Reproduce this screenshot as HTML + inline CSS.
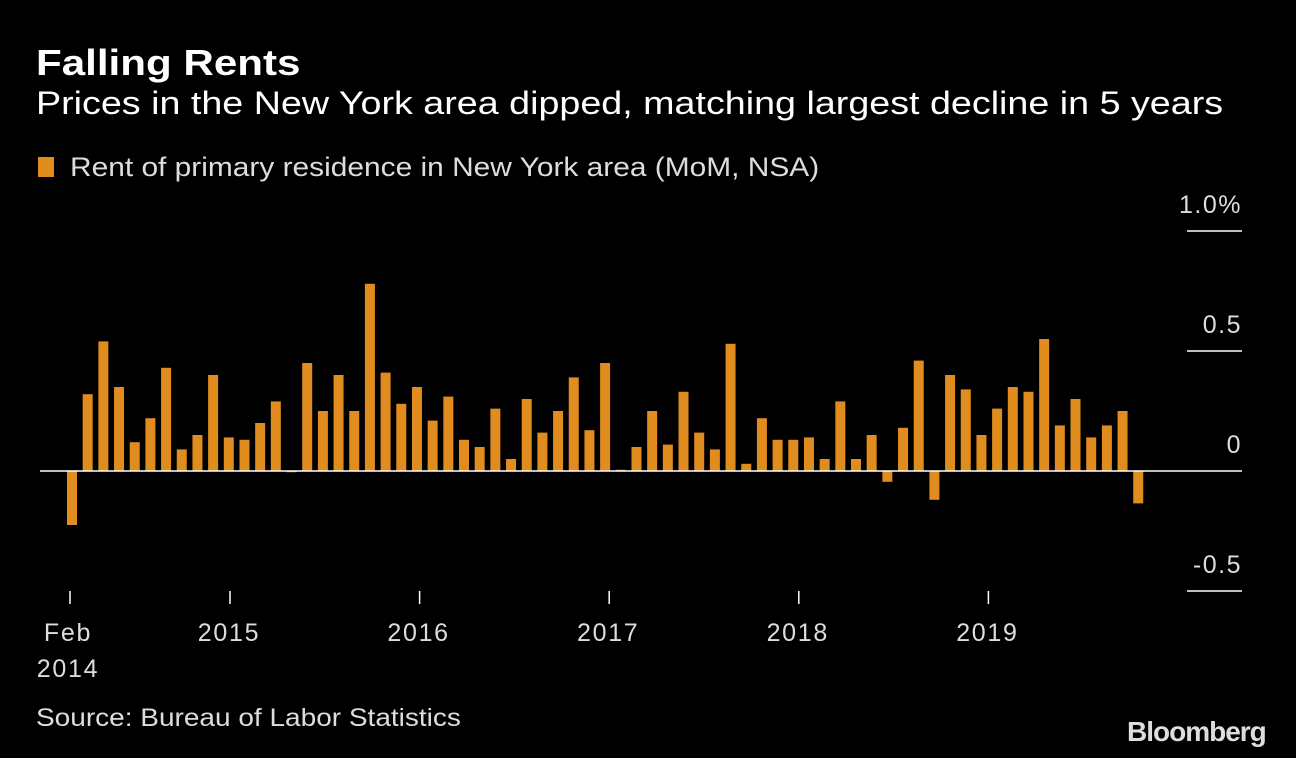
<!DOCTYPE html>
<html><head><meta charset="utf-8"><style>
body{margin:0;background:#000;width:1296px;height:758px;overflow:hidden;font-family:"Liberation Sans",sans-serif;color:#fff}
.t{position:absolute;white-space:nowrap;transform-origin:left top}
</style></head><body>
<div class="t" style="left:36px;top:42px;font-size:36px;font-weight:bold;transform:scaleX(1.17)">Falling Rents</div>
<div class="t" style="left:36px;top:85px;font-size:32px;transform:scaleX(1.177)">Prices in the New York area dipped, matching largest decline in 5 years</div>
<div class="t" style="left:38px;top:152px;font-size:27px;color:#ddd"><span style="display:inline-block;width:16px;height:20px;background:#e08c1e;margin-right:16px;vertical-align:-1px"></span><span style="display:inline-block;transform:scaleX(1.107);transform-origin:left top">Rent of primary residence in New York area (MoM, NSA)</span></div>
<svg id="c" width="1296" height="758" style="position:absolute;left:0;top:0"></svg>
<div class="t" style="left:36px;top:704px;font-size:25px;color:#ddd;transform:scaleX(1.12)">Source: Bureau of Labor Statistics</div>
<div class="t" style="left:1127px;top:716px;font-size:28px;font-weight:bold;color:#ddd;letter-spacing:-1px">Bloomberg</div>
<script>
const values=[-0.225,0.32,0.54,0.35,0.12,0.22,0.43,0.09,0.15,0.40,0.14,0.13,0.20,0.29,-0.005,0.45,0.25,0.40,0.25,0.78,0.41,0.28,0.35,0.21,0.31,0.13,0.10,0.26,0.05,0.30,0.16,0.25,0.39,0.17,0.45,0.005,0.10,0.25,0.11,0.33,0.16,0.09,0.53,0.03,0.22,0.13,0.13,0.14,0.05,0.29,0.05,0.15,-0.045,0.18,0.46,-0.12,0.40,0.34,0.15,0.26,0.35,0.33,0.55,0.19,0.30,0.14,0.19,0.25,-0.135];
const yTicks=[1.0,0.5,0,-0.5];
const yTickLabels=["1.0%","0.5","0","-0.5"];
const xTickIdx=[0,10,22,34,46,58];
const xTickLabels=["Feb","2015","2016","2017","2018","2019"];
const svg=document.getElementById('c');const NS='http://www.w3.org/2000/svg';
const y=v=>471-v*240;const x=i=>72+i*15.68;
const xt=i=>230+(i-10)*15.8;
function mk(t,a){const e=document.createElementNS(NS,t);for(const k in a)e.setAttribute(k,a[k]);svg.appendChild(e);return e;}
yTicks.forEach((v,i)=>{
 if(v!==0){const l=mk('line',{x1:1187,x2:1242,y1:y(v),y2:y(v),stroke:'#fff','stroke-width':1.5});
 
 }
 const t=mk('text',{x:1242,y:y(v)-18,'text-anchor':'end','font-size':25,fill:'#ddd','font-family':'Liberation Sans','letter-spacing':1.5});
 t.textContent=yTickLabels[i];
 
 
});
values.forEach((v,i)=>{
 const r=mk('rect',{x:x(i)-5,y:Math.min(y(v),y(0)),width:10,height:Math.abs(y(v)-y(0)),fill:'#e08c1e'});
 
 
});
const z=mk('line',{x1:40,x2:1242,y1:y(0),y2:y(0),stroke:'#fff','stroke-width':1.5});


xTickIdx.forEach((idx,i)=>{
 const px=i==0?70:xt(idx);
 const l=mk('line',{x1:px,x2:px,y1:591,y2:604,stroke:'#fff','stroke-width':1.5});
 
 
 const t=mk('text',{x:i==0?68:px-1,y:641,'text-anchor':'middle','font-size':25,fill:'#ddd','font-family':'Liberation Sans','letter-spacing':1.7});
 t.textContent=xTickLabels[i];
 
 
});
const t2=mk('text',{x:68,y:677,'text-anchor':'middle','font-size':25,fill:'#ddd','font-family':'Liberation Sans','letter-spacing':1.7});
t2.textContent='2014';


</script>
</body></html>
